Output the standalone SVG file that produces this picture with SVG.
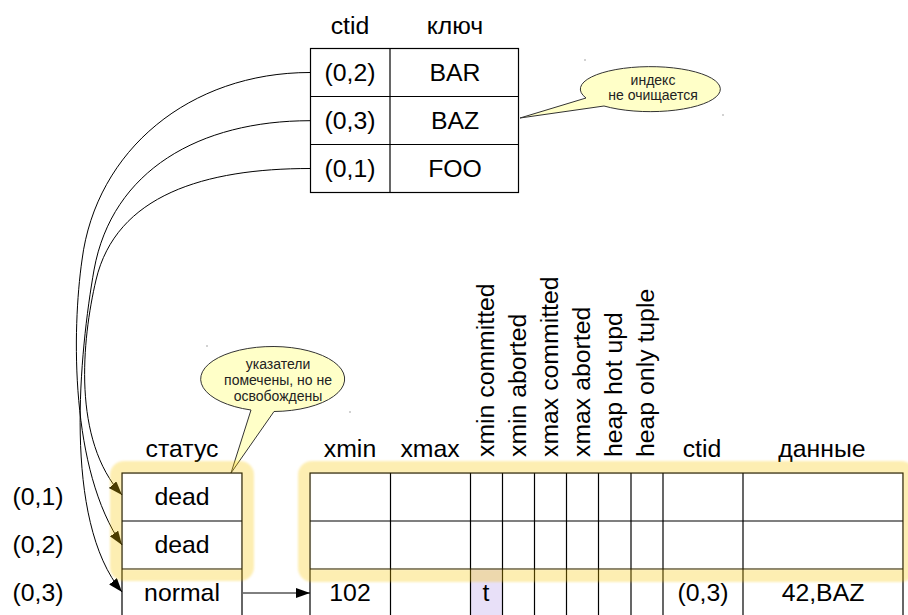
<svg xmlns="http://www.w3.org/2000/svg" width="908" height="615" viewBox="0 0 908 615">
<style>
  text { font-family: "Liberation Sans", Arial, sans-serif; fill: #000; }
  .t24 { font-size: 24.8px; text-anchor: middle; }
  .vt { font-size: 24.8px; text-anchor: start; }
  .note { font-size: 14px; text-anchor: middle; fill: #222; }
  .cell { fill: #fff; stroke: #000; stroke-width: 1.2; }
  .ln { stroke: #000; stroke-width: 1.2; fill: none; }
  .conn { stroke: #000; stroke-width: 1; fill: none; }
  .bubble { fill: #ffffc8; stroke: #333; stroke-width: 1; }
  .glow { fill: #f7c800; fill-opacity: 0.3; fill-rule: evenodd; }
  .dot { fill: #999; }
</style>
<defs>
  <marker id="arr" markerUnits="userSpaceOnUse" markerWidth="16" markerHeight="12" refX="14" refY="5" orient="auto">
    <path d="M0,0 L14,5 L0,10 Z" fill="#000"/>
  </marker>
  <filter id="soft" x="-10%" y="-10%" width="120%" height="120%">
    <feGaussianBlur stdDeviation="1.2"/>
  </filter>
</defs>

<!-- index table -->
<g id="index-table">
  <text class="t24" x="350" y="34">ctid</text>
  <text class="t24" x="455" y="34">ключ</text>
  <rect class="cell" x="310.5" y="48.5" width="208" height="144"/>
  <line class="ln" x1="390" y1="48.5" x2="390" y2="192.5"/>
  <line class="ln" x1="310.5" y1="96.5" x2="518.5" y2="96.5"/>
  <line class="ln" x1="310.5" y1="144.5" x2="518.5" y2="144.5"/>
  <text class="t24" x="350" y="81">(0,2)</text>
  <text class="t24" x="455" y="81">BAR</text>
  <text class="t24" x="350" y="129">(0,3)</text>
  <text class="t24" x="455" y="129">BAZ</text>
  <text class="t24" x="350" y="177">(0,1)</text>
  <text class="t24" x="455" y="177">FOO</text>
</g>

<!-- callout: index -->
<g id="callout-index">
  <path class="bubble" d="M586,98 A70,22.5 0 1 1 604,106 L520,118 Z"/>
  <text class="note" x="653" y="85">индекс</text>
  <text class="note" x="653" y="100">не очищается</text>
  <circle class="dot" cx="585" cy="60" r="0.8"/>
  <circle class="dot" cx="723" cy="115" r="0.8"/>
</g>

<!-- callout: pointers -->
<g id="callout-pointers">
  <path class="bubble" d="M251,410 A72,32.5 0 1 1 274,411.5 L231,473 Z"/>
  <text class="note" x="278" y="369">указатели</text>
  <text class="note" x="278" y="385">помечены, но не</text>
  <text class="note" x="278" y="401">освобождены</text>
  <circle class="dot" cx="207" cy="346" r="0.8"/>
  <circle class="dot" cx="350" cy="412" r="0.8"/>
</g>

<!-- row labels -->
<g id="row-labels">
  <text class="t24" x="38" y="505">(0,1)</text>
  <text class="t24" x="38" y="553">(0,2)</text>
  <text class="t24" x="38" y="601">(0,3)</text>
</g>

<!-- status table -->
<g id="status-table">
  <text class="t24" x="182" y="457">статус</text>
  <rect class="cell" x="122" y="473" width="120" height="150"/>
  <line class="ln" x1="122" y1="521" x2="242" y2="521"/>
  <line class="ln" x1="122" y1="569" x2="242" y2="569"/>
  <text class="t24" x="182" y="505">dead</text>
  <text class="t24" x="182" y="553">dead</text>
  <text class="t24" x="182" y="601">normal</text>
</g>

<!-- heap tuple table -->
<g id="heap-table">
  <text class="t24" x="350" y="457">xmin</text>
  <text class="t24" x="430" y="457">xmax</text>
  <text class="vt" transform="translate(494,457) rotate(-90)">xmin committed</text>
  <text class="vt" transform="translate(526,457) rotate(-90)">xmin aborted</text>
  <text class="vt" transform="translate(558,457) rotate(-90)">xmax committed</text>
  <text class="vt" transform="translate(590,457) rotate(-90)">xmax aborted</text>
  <text class="vt" transform="translate(622,457) rotate(-90)">heap hot upd</text>
  <text class="vt" transform="translate(654,457) rotate(-90)">heap only tuple</text>
  <text class="t24" x="702" y="457">ctid</text>
  <text class="t24" x="822" y="457">данные</text>
  <rect class="cell" x="310" y="473" width="593" height="150"/>
  <rect x="470" y="569" width="32" height="54" fill="#e8e0f8"/>
  <line class="ln" x1="310" y1="521" x2="903" y2="521"/>
  <line class="ln" x1="310" y1="569" x2="903" y2="569"/>
  <line class="ln" x1="390.5" y1="473" x2="390.5" y2="623"/>
  <line class="ln" x1="470.5" y1="473" x2="470.5" y2="623"/>
  <line class="ln" x1="502.5" y1="473" x2="502.5" y2="623"/>
  <line class="ln" x1="534.5" y1="473" x2="534.5" y2="623"/>
  <line class="ln" x1="566.5" y1="473" x2="566.5" y2="623"/>
  <line class="ln" x1="598.5" y1="473" x2="598.5" y2="623"/>
  <line class="ln" x1="631" y1="473" x2="631" y2="623"/>
  <line class="ln" x1="663" y1="473" x2="663" y2="623"/>
  <line class="ln" x1="743" y1="473" x2="743" y2="623"/>
  <text class="t24" x="350" y="601">102</text>
  <text class="t24" x="486" y="601">t</text>
  <text class="t24" x="703" y="601">(0,3)</text>
  <text class="t24" x="823" y="601">42,BAZ</text>
</g>

<!-- connectors -->
<g id="connectors">
  <path class="conn" d="M310,72.5 C190,72.5 96,150 82,260 C72,330 70,470 122,545" marker-end="url(#arr)"/>
  <path class="conn" d="M310,120.7 C200,120.7 112,170 94,270 C80,350 62,520 122,592" marker-end="url(#arr)"/>
  <path class="conn" d="M310,168.5 C205,168.5 116,195 96,280 C82,340 72,440 122,495" marker-end="url(#arr)"/>
  <path class="conn" d="M243,593 H310" marker-end="url(#arr)"/>
</g>

<!-- highlight glows -->
<g id="highlights" filter="url(#soft)">
  <path class="glow" d="M124,461 H240 A14,14 0 0 1 254,475 V567 A14,14 0 0 1 240,581 H124 A14,14 0 0 1 110,567 V475 A14,14 0 0 1 124,461 Z M122,473 V569 H242 V473 Z"/>
  <path class="glow" d="M312,461 H901 A14,14 0 0 1 915,475 V568 A14,14 0 0 1 901,582 H312 A14,14 0 0 1 298,568 V475 A14,14 0 0 1 312,461 Z M310,473 V569 H903 V473 Z"/>
</g>
</svg>
